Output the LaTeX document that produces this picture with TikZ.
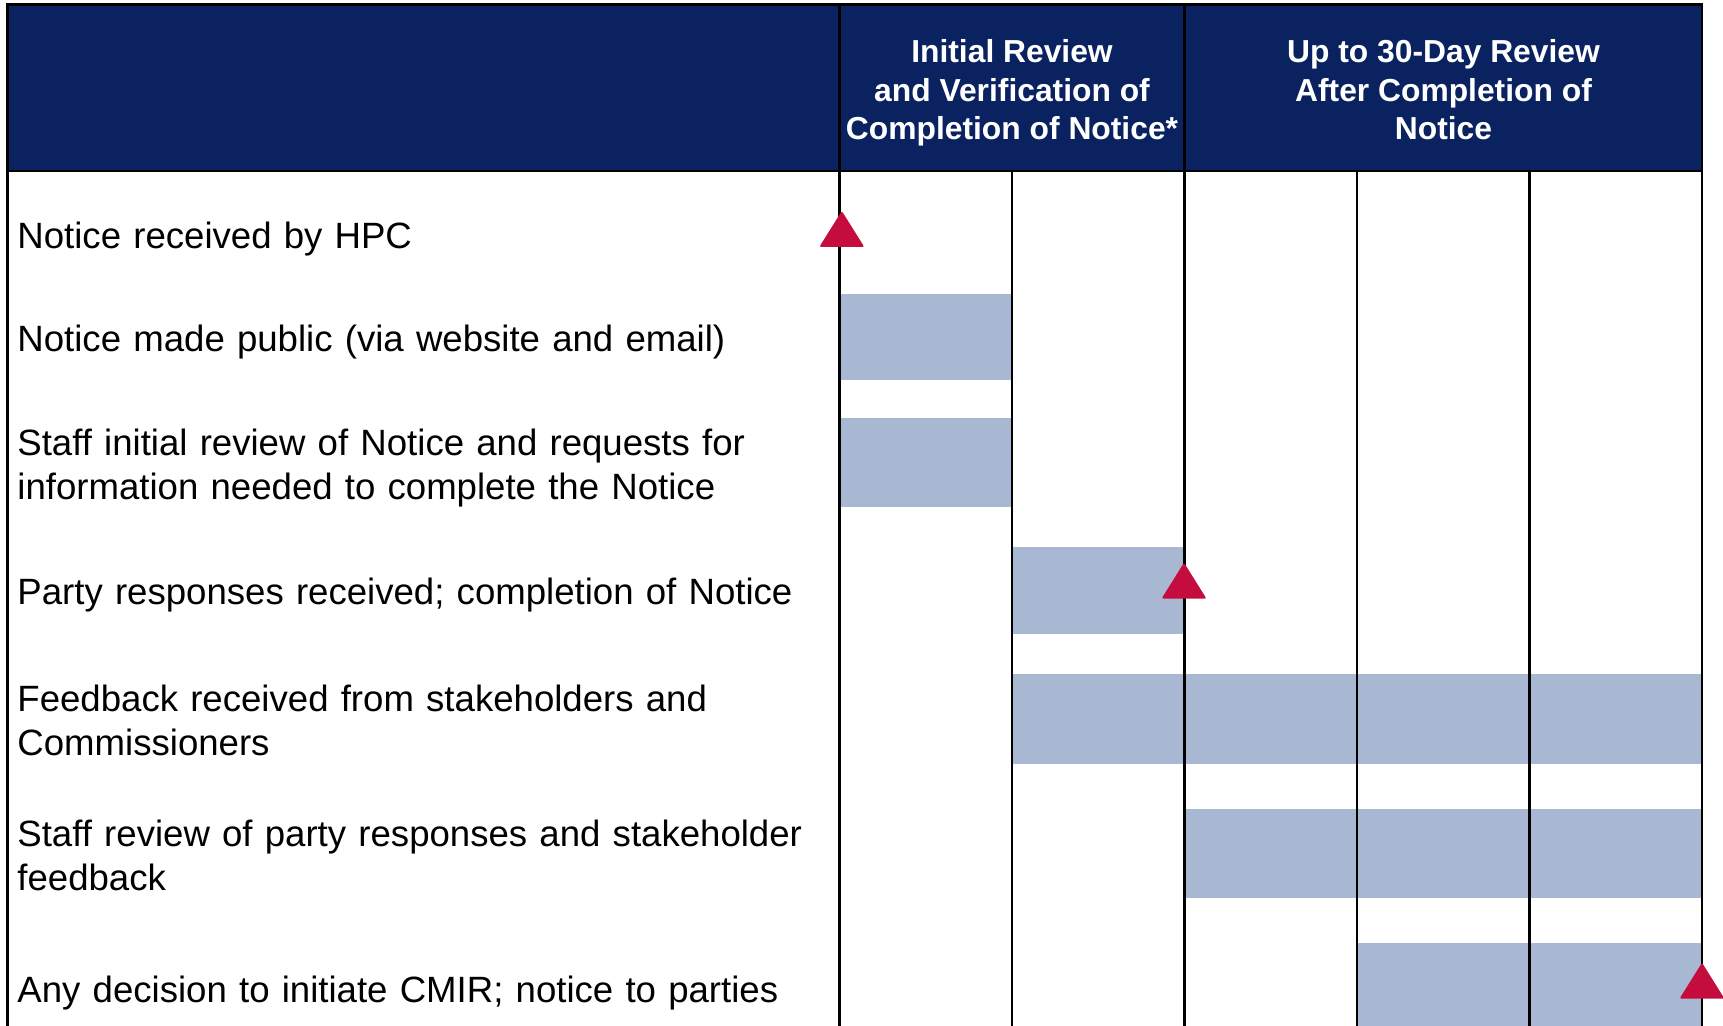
\documentclass[tikz,border=0pt]{standalone}
\usepackage{fontspec}
\setmainfont{Liberation Sans}
\usetikzlibrary{positioning,calc}
\definecolor{hpcnavy}{RGB}{11,34,96}
\definecolor{hpcbar}{RGB}{168,184,210}
\definecolor{hpcred}{RGB}{196,13,62}

\begin{document}
\begin{tikzpicture}[
    x=0.5pt, y=-0.5pt,
    rule/.style={draw=black, line width=1.4pt},
    colhead/.style={text=white, font=\bfseries\fontsize{15.9}{19.25}\selectfont, align=center, inner sep=0pt, anchor=base},
    task/.style={font=\fontsize{18.3}{22}\selectfont, align=left, text width=420pt, inner sep=0pt, anchor=base west},
    barfill/.style={fill=hpcbar},
    milestone/.style={fill=hpcred, rounded corners=1pt}
]
\useasboundingbox (0,0) rectangle (1723,1026);

% header band
\filldraw[fill=hpcnavy, rule] (7.7,4.4) rectangle (1702,171);
\node[colhead] (phase1) at (1012,140) {Initial Review\\and Verification of\\Completion of Notice*};
\node[colhead] (phase2) at (1443.5,140) {Up to 30-Day Review\\After Completion of\\Notice};

% bars
\fill[barfill] (839.5,294.5) rectangle (1012,380);
\fill[barfill] (839.5,417.6) rectangle (1012,506.6);
\fill[barfill] (1012,546.7) rectangle (1184.5,634);
\fill[barfill] (1012,673.6) rectangle (1702,763.7);
\fill[barfill] (1184.5,808.8) rectangle (1702,897.8);
\fill[barfill] (1357,942.7) rectangle (1702,1026);

% grid lines
\draw[rule] (7.7,4.4) -- (7.7,1026);
\foreach \x in {839.5,1184.5,1702}
  \draw[rule] (\x,4.4) -- (\x,1026);
\foreach \x in {1012,1357,1529.5}
  \draw[rule] (\x,171) -- (\x,1026);

% rows
\node[task] (received) at (17,249) {Notice received by HPC};
\node[task] (public) at (17,352) {Notice made public (via website and email)};
\node[task] (review) at (17,455) {Staff initial review of Notice and requests for\\information needed to complete the Notice};
\node[task] (responses) at (17,604) {Party responses received; completion of Notice};
\node[task] (feedback) at (17,711) {Feedback received from stakeholders and\\Commissioners};
\node[task] (staff) at (17,846) {Staff review of party responses and stakeholder\\feedback};
\node[task] (decision) at (17,1002) {Any decision to initiate CMIR; notice to parties};

% milestones
\foreach \x/\y in {841.8/211, 1184/562.7, 1702/962.7}
  \fill[milestone] (\x,\y) -- (\x+22.5,\y+36) -- (\x-22.5,\y+36) -- cycle;
\end{tikzpicture}
\end{document}
